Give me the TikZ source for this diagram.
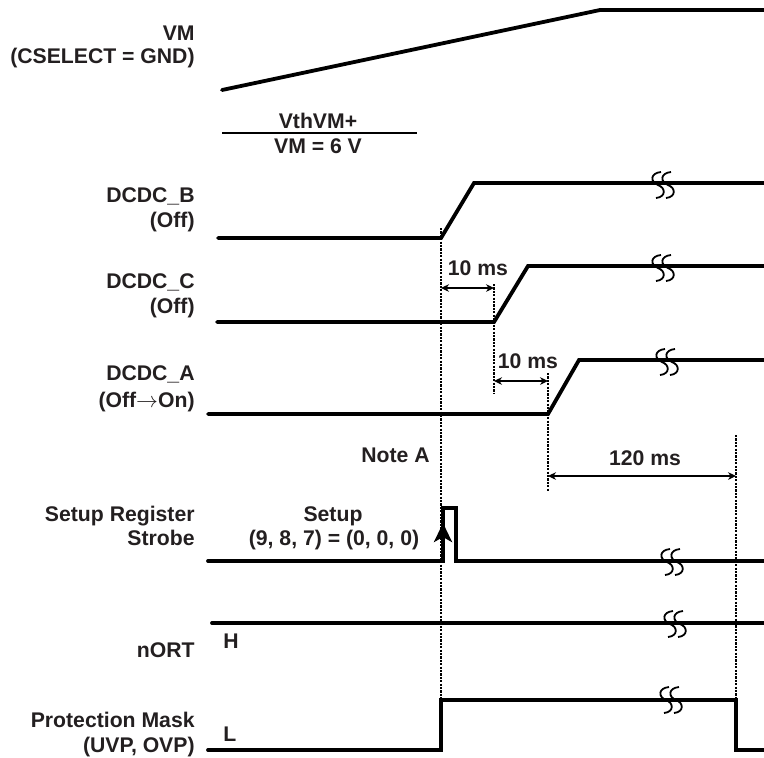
\documentclass[tikz,border=0pt]{standalone}
\usepackage{fontspec}
\setmainfont{Liberation Sans}
\usetikzlibrary{arrows.meta}
\definecolor{txt}{HTML}{231F20}
\tikzset{
  sig/.style={line width=1.9pt, line cap=round, line join=miter, black},
  guide/.style={line width=1.3pt, dash pattern=on 1.1pt off 0.6pt, black},
  meas/.style={line width=0.55pt, {Stealth[length=4pt,width=3.8pt]}-{Stealth[length=4pt,width=3.8pt]}},
  lbl/.style={inner sep=0pt, font=\fontsize{10.6}{12}\selectfont\bfseries, text=txt},
  brk/.style={line width=0.9pt, black},
  brkpic/.pic={
    \foreach \d in {-5,5}{
      \draw[brk] (\d+3,-13) .. controls (\d-8,-12) and (\d-8,-3) .. (\d,0)
                 .. controls (\d+8,3) and (\d+8,12) .. (\d-2,13);
    }
  }
}
\begin{document}
\begin{tikzpicture}[x=0.5pt,y=-0.5pt]
\useasboundingbox (0,0) rectangle (764,757);

% ---------- labels on the left ----------
\node[lbl, anchor=base east] (lvm1) at (195,40) {VM};
\node[lbl, anchor=base east] (lvm2) at (195,63) {(CSELECT = GND)};
\node[lbl, anchor=base east] (lb1) at (195,202) {DCDC\_B};
\node[lbl, anchor=base east] (lb2) at (195,227) {(Off)};
\node[lbl, anchor=base east] (lc1) at (195,288) {DCDC\_C};
\node[lbl, anchor=base east] (lc2) at (195,313) {(Off)};
\node[lbl, anchor=base east] (la1) at (195,380) {DCDC\_A};
\node[lbl, anchor=base east] (la2) at (195,407) {(Off$\rightarrow$On)};
\node[lbl, anchor=base east] (ls1) at (195,521) {Setup Register};
\node[lbl, anchor=base east] (ls2) at (195,545) {Strobe};
\node[lbl, anchor=base east] (ln) at (195,657) {nORT};
\node[lbl, anchor=base east] (lp1) at (195,727) {Protection Mask};
\node[lbl, anchor=base east] (lp2) at (195,752) {(UVP, OVP)};

% ---------- other texts ----------
\node[lbl, anchor=base] (vth) at (318,128) {VthVM+};
\node[lbl, anchor=base] (vm6) at (318,153) {VM = 6 V};
\node[lbl, anchor=base east] (notea) at (430,462) {Note A};
\node[lbl, anchor=base] (setup1) at (333,521) {Setup};
\node[lbl, anchor=base] (setup2) at (334,545) {(9, 8, 7) = (0, 0, 0)};
\node[lbl, anchor=base west] (hlev) at (223,648) {H};
\node[lbl, anchor=base west] (llev) at (223,741) {L};
\node[lbl, anchor=base] (t1) at (478,275) {10 ms};
\node[lbl, anchor=base] (t2) at (528,368) {10 ms};
\node[lbl, anchor=base] (t3) at (645,465) {120 ms};

% ---------- threshold rule ----------
\coordinate (r0) at (222,133); \coordinate (r1) at (417,133);
\draw[line width=0.6pt] (r0) -- (r1);

% ---------- VM ----------
\coordinate (vm0) at (222,90); \coordinate (vm1) at (600,10); \coordinate (vm2) at (766,10);
\draw[sig] (vm0) -- (vm1) -- (vm2);

% ---------- DCDC_B ----------
\coordinate (b0) at (218,238); \coordinate (b1) at (441,238);
\coordinate (b2) at (474,183); \coordinate (b3) at (766,183);
\draw[sig] (b0) -- (b1) -- (b2) -- (b3);
\pic at (663,185) {brkpic};

% ---------- DCDC_C ----------
\coordinate (c0) at (217,322); \coordinate (c1) at (494,322);
\coordinate (c2) at (528,266); \coordinate (c3) at (766,266);
\draw[sig] (c0) -- (c1) -- (c2) -- (c3);
\pic at (663,268) {brkpic};

% ---------- DCDC_A ----------
\coordinate (a0) at (208,414); \coordinate (a1) at (548,414);
\coordinate (a2) at (579,360); \coordinate (a3) at (766,360);
\draw[sig] (a0) -- (a1) -- (a2) -- (a3);
\pic at (667,362) {brkpic};

% ---------- Strobe ----------
\coordinate (s0) at (208,561); \coordinate (s1) at (443,561);
\coordinate (s2) at (443,508); \coordinate (s3) at (456,508);
\coordinate (s4) at (456,561); \coordinate (s5) at (766,561);
\draw[sig] (s0) -- (s1) -- (s2) -- (s3) -- (s4) -- (s5);
\coordinate (sa) at (443,523);
\draw[line width=1.9pt, -{Stealth[length=9.5pt,width=9pt,inset=2.5pt]}] (s1) -- (sa);
\pic at (672,562) {brkpic};

% ---------- nORT ----------
\coordinate (n0) at (212,623); \coordinate (n1) at (766,623);
\draw[sig] (n0) -- (n1);
\pic at (675,624) {brkpic};

% ---------- Protection Mask ----------
\coordinate (p0) at (208,750); \coordinate (p1) at (441,750);
\coordinate (p2) at (441,700); \coordinate (p3) at (736,700);
\coordinate (p4) at (736,750); \coordinate (p5) at (766,750);
\draw[sig] (p0) -- (p1) -- (p2) -- (p3) -- (p4) -- (p5);
\pic at (671,700) {brkpic};

% ---------- dotted guides ----------
\coordinate (g1t) at (441,228); \coordinate (g1b) at (441,700);
\coordinate (g2t) at (494,284); \coordinate (g2b) at (494,393);
\coordinate (g3t) at (548,373); \coordinate (g3b) at (548,491);
\coordinate (g4t) at (736,435); \coordinate (g4b) at (736,700);
\draw[guide] (g1t) -- (g1b);
\draw[guide] (g2t) -- (g2b);
\draw[guide] (g3t) -- (g3b);
\draw[guide] (g4t) -- (g4b);

% ---------- time measurements ----------
\coordinate (m1a) at (441,288); \coordinate (m1b) at (494,288);
\coordinate (m2a) at (494,381); \coordinate (m2b) at (548,381);
\coordinate (m3a) at (548,476); \coordinate (m3b) at (736,476);
\draw[meas] (m1a) -- (m1b);
\draw[meas] (m2a) -- (m2b);
\draw[meas] (m3a) -- (m3b);
\end{tikzpicture}
\end{document}
